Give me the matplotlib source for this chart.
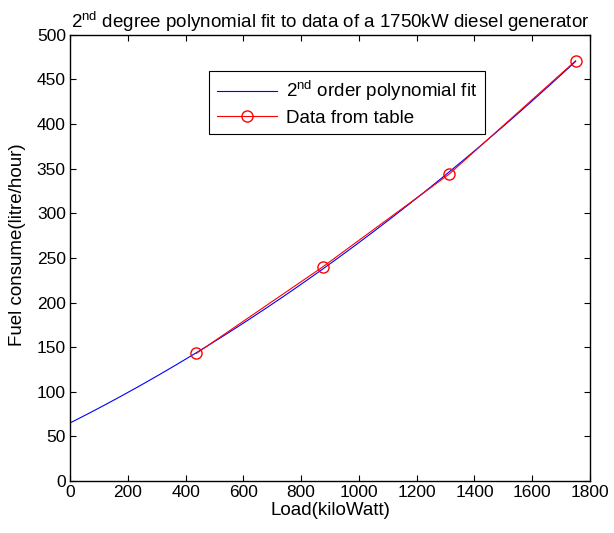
import numpy as np
import matplotlib
matplotlib.use("Agg")
import matplotlib.pyplot as plt

plt.rcParams["font.family"] = ["Liberation Sans", "DejaVu Sans"]
plt.rcParams["mathtext.fontset"] = "custom"
plt.rcParams["mathtext.rm"] = "Liberation Sans"

load_kw = [437.5, 875, 1312.5, 1750]
fuel_lph = [143, 240, 344, 471]

# 2nd order fit through the table data
coeffs = np.polyfit(load_kw, fuel_lph, 2)
x_fit = np.linspace(0, 1750, 200)
y_fit = np.polyval(coeffs, x_fit)

fs_tick = 12.5
fs_text = 13.5

fig = plt.figure(figsize=(6.14, 5.33), dpi=100)
ax = fig.add_axes([0.114, 0.0976, 0.847, 0.837])

ax.plot(x_fit, y_fit, color="blue", linewidth=0.8, label=r"2$^{\mathrm{nd}}$ order polynomial fit")
ax.plot(load_kw, fuel_lph, color="red", linewidth=0.8, marker="o", markersize=8,
        markerfacecolor="none", markeredgecolor="red", label="Data from table")

ax.set_xlim(0, 1800)
ax.set_ylim(0, 500)
ax.set_xticks(np.arange(0, 1801, 200))
ax.set_yticks(np.arange(0, 501, 50))
ax.tick_params(direction="in", top=True, right=True, labelsize=fs_tick, length=4, width=0.8, pad=3)
for s in ax.spines.values():
    s.set_linewidth(1.0)

ax.set_xlabel("Load(kiloWatt)", fontsize=fs_text, labelpad=1)
ax.set_ylabel("Fuel consume(litre/hour)", fontsize=fs_text)
ax.yaxis.set_label_coords(-0.085, 0.53)
ax.set_title(r"2$^{\mathrm{nd}}$ degree polynomial fit to data of a 1750kW diesel generator",
             fontsize=fs_text, pad=5)

leg = ax.legend(loc="upper left", bbox_to_anchor=(0.25, 0.94), fontsize=fs_text, fancybox=False,
                framealpha=1, edgecolor="black", handlelength=3.2, borderpad=0.4,
                labelspacing=0.35, handletextpad=0.5)
leg.get_frame().set_linewidth(0.8)

plt.savefig("out.png", dpi=100)
